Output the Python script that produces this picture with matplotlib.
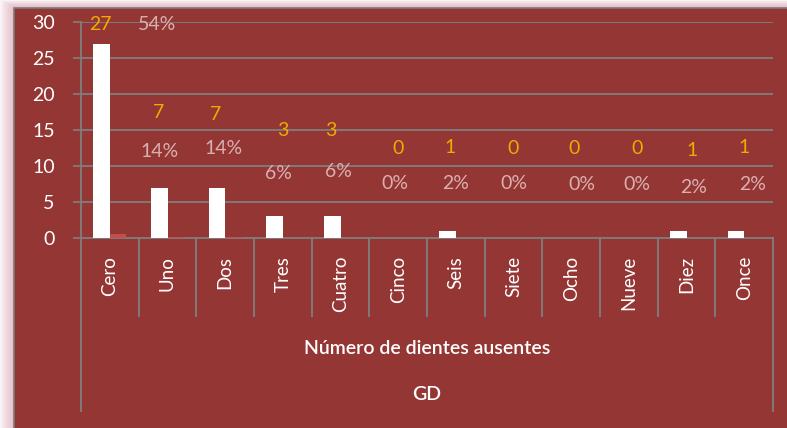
import matplotlib.pyplot as plt
import matplotlib.transforms as mtransforms
from matplotlib.patches import Rectangle

# data
categories = ["Cero", "Uno", "Dos", "Tres", "Cuatro", "Cinco",
              "Seis", "Siete", "Ocho", "Nueve", "Diez", "Once"]
counts = [27, 7, 7, 3, 3, 0, 1, 0, 0, 0, 1, 1]
percents = [0.54, 0.14, 0.14, 0.06, 0.06, 0.0, 0.02, 0.0, 0.0, 0.0, 0.02, 0.02]
count_labels = ["27", "7", "7", "3", "3", "0", "1", "0", "0", "0", "1", "1"]
pct_labels = ["54%", "14%", "14%", "6%", "6%", "0%", "2%", "0%", "0%", "0%", "2%", "2%"]

# where Excel left the (dragged) data labels, in category / value units
count_lbl_dx = [-0.17, -0.15, -0.16, 0.0, -0.16, 0.0, -0.1, 0.0, 0.05, 0.14, 0.09, 0.0]
count_lbl_y = [29.7, 17.5, 17.1, 15.0, 15.0, 12.4, 12.6, 12.4, 12.4, 12.4, 12.2, 12.6]
pct_lbl_dx = [0.82, -0.13, -0.03, -0.08, -0.04, -0.06, 0.0, 0.0, 0.18, 0.14, 0.13, 0.15]
pct_lbl_y = [29.7, 12.0, 12.5, 9.0, 9.3, 7.6, 7.6, 7.6, 7.4, 7.4, 7.0, 7.4]

bg = "#943634"
grid_c = "#7f7f7f"
plt.rcParams['font.family'] = ['Lato', 'DejaVu Sans']

fig = plt.figure(figsize=(7.87, 4.28), dpi=100)
W, H = 787.0, 428.0

# soft pink shadow + chart area (behind the axes)
for k in range(8):
    fig.patches.append(Rectangle((2 * k / W, 0), 1, (H - k) / H,
                                 transform=fig.transFigure, color="#d9a0b0",
                                 alpha=0.12, lw=0, zorder=-3))
fig.patches.append(Rectangle((14 / W, -0.01), 1, (H - 8) / H + 0.01,
                             transform=fig.transFigure, facecolor=bg,
                             edgecolor="#7a7a7a", lw=1.2, zorder=-2))

ax = fig.add_axes([81 / W, (H - 238) / H, (773 - 81) / W, (238 - 22) / H])
ax.patch.set_alpha(0)

n = len(categories)
xs = list(range(n))
w = 0.287
ax.bar([x - w / 2 for x in xs], counts, width=w, color="white", zorder=3)
ax.bar([x + w / 2 for x in xs], percents, width=w, color="#c0504d", zorder=3)

ax.set_xlim(-0.5, n - 0.5)
ax.set_ylim(0, 30)
ax.set_yticks(range(0, 31, 5))
ax.set_yticklabels([str(v) for v in range(0, 31, 5)], color="white", fontsize=14)
ax.tick_params(axis="y", length=6, color=grid_c, width=1.2, pad=13)
ax.set_xticks([])
for v in range(5, 31, 5):
    ax.axhline(v, color=grid_c, lw=1.3, zorder=1)
for s in ["top", "right"]:
    ax.spines[s].set_visible(False)
for s in ["left", "bottom"]:
    ax.spines[s].set_color(grid_c)
    ax.spines[s].set_linewidth(1.3)

# multi-level category axis
trans = mtransforms.blended_transform_factory(ax.transData, ax.transAxes)
y_cat = (238 - 316) / 216.0
y_out = (238 - 411) / 216.0
for b in range(1, n):
    ax.plot([b - 0.5, b - 0.5], [0, y_cat], transform=trans, color=grid_c,
            lw=1.3, clip_on=False)
for b in [-0.5, n - 0.5]:
    ax.plot([b, b], [0, y_out], transform=trans, color=grid_c,
            lw=1.3, clip_on=False)
y_lab = (238 - 256) / 216.0
for x, c in zip(xs, categories):
    ax.text(x, y_lab, c, transform=trans, rotation=90, ha="center", va="top",
            color="white", fontsize=13.5)

ax.text(0.5, (238 - 348) / 216.0, "Número de dientes ausentes", transform=ax.transAxes,
        ha="center", va="center", color="white", fontsize=14, fontweight="semibold")
ax.text(0.5, (238 - 395) / 216.0, "GD", transform=ax.transAxes,
        ha="center", va="center", color="white", fontsize=14, fontweight="semibold")

# data labels
for x, t, dx, y in zip(xs, count_labels, count_lbl_dx, count_lbl_y):
    ax.text(x + dx, y, t, ha="center", va="center", color="#f2a900", fontsize=14, zorder=5)
for x, t, dx, y in zip(xs, pct_labels, pct_lbl_dx, pct_lbl_y):
    ax.text(x + dx, y, t, ha="center", va="center", color="#d9b0b0", fontsize=14, zorder=5)

fig.savefig("out.png", dpi=100, facecolor="white")
